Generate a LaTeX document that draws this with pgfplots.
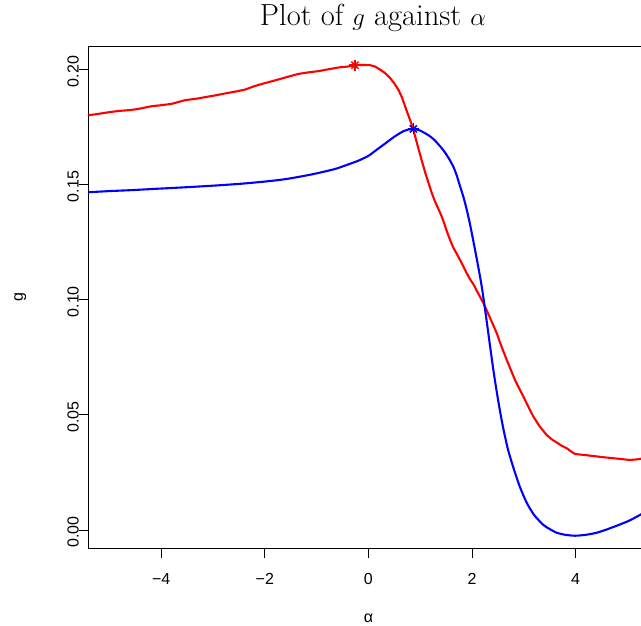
\documentclass[border=0pt]{standalone}
\usepackage{pgfplots}
\pgfplotsset{compat=1.18}
\usepackage{fontspec}
\newfontfamily\arial{Liberation Sans}
\pgfplotstableread{
x y
-5.50 0.1797
-5.41 0.1801
-5.20 0.1808
-5.00 0.1815
-4.83 0.1820
-4.60 0.1824
-4.44 0.1829
-4.18 0.1841
-4.00 0.1845
-3.80 0.1851
-3.54 0.1867
-3.30 0.1874
-3.155 0.1880
-2.95 0.1888
-2.77 0.1896
-2.55 0.1905
-2.38 0.1913
-2.20 0.1928
-2.00 0.1941
-1.85 0.1950
-1.674 0.1961
-1.50 0.1972
-1.353 0.1981
-1.15 0.1988
-0.967 0.1993
-0.80 0.2000
-0.58 0.2009
-0.40 0.2013
-0.26 0.2019
-0.10 0.2020
0.03 0.2019
0.13 0.2013
0.224 0.2000
0.32 0.1985
0.417 0.1964
0.50 0.1940
0.577 0.1913
0.65 0.1878
0.707 0.1841
0.77 0.1802
0.836 0.1761
0.90 0.1712
0.964 0.1658
1.03 0.1605
1.093 0.1555
1.157 0.1510
1.22 0.1466
1.28 0.1430
1.34 0.1400
1.40 0.1370
1.46 0.1334
1.52 0.1294
1.58 0.1258
1.64 0.1226
1.705 0.1200
1.80 0.1160
1.90 0.1115
1.962 0.1089
2.026 0.1068
2.10 0.1036
2.219 0.0986
2.30 0.0946
2.40 0.0895
2.477 0.0855
2.57 0.0797
2.670 0.0739
2.76 0.0690
2.83 0.0652
2.90 0.0620
3.00 0.0576
3.10 0.0530
3.184 0.0493
3.30 0.0452
3.443 0.0412
3.55 0.0392
3.636 0.0380
3.73 0.0366
3.829 0.0355
3.92 0.0340
3.99 0.0330
4.20 0.0325
4.536 0.0316
4.80 0.0310
5.05 0.0304
5.20 0.0307
5.30 0.0311
5.45 0.0316
}\redtab
\pgfplotstableread{
x y
-5.50 0.1465
-5.41 0.1467
-5.00 0.1472
-4.50 0.1477
-4.18 0.1481
-3.50 0.1489
-2.90 0.1497
-2.40 0.1505
-1.93 0.1515
-1.60 0.1524
-1.29 0.1536
-1.00 0.1549
-0.645 0.1568
-0.40 0.1587
-0.195 0.1604
0.00 0.1625
0.15 0.1650
0.32 0.1678
0.50 0.1708
0.674 0.1732
0.80 0.1741
0.867 0.1742
1.00 0.1735
1.19 0.1710
1.30 0.1688
1.446 0.1650
1.55 0.1615
1.64 0.1578
1.705 0.1540
1.77 0.1493
1.84 0.1442
1.90 0.1390
1.96 0.1330
2.026 0.1255
2.09 0.1180
2.155 0.1101
2.20 0.1040
2.251 0.0960
2.30 0.0880
2.348 0.0800
2.40 0.0715
2.444 0.0648
2.50 0.0570
2.55 0.0505
2.605 0.0440
2.65 0.0393
2.70 0.0345
2.80 0.0270
2.92 0.0190
3.057 0.0118
3.20 0.0065
3.377 0.0022
3.50 0.0004
3.636 -0.0012
3.80 -0.0021
3.99 -0.0025
4.20 -0.0021
4.408 -0.0012
4.60 0.0002
4.858 0.0024
5.05 0.0042
5.264 0.0068
5.45 0.0092
}\bluetab
\begin{document}
\begin{tikzpicture}[x=1pt,y=1pt]
\begin{axis}[
  at={(0,0)}, anchor=south west,
  scale only axis, width=560.2pt, height=502pt,
  xmin=-5.408, xmax=5.408, ymin=-0.00796, ymax=0.2101,
  xtick={-4,-2,0,2,4}, xticklabels={−4,−2,0,2,4},
  ytick={0,0.05,0.1,0.15,0.2}, yticklabels={0.00,0.05,0.10,0.15,0.20},
  xtick pos=bottom, ytick pos=left,
  tick align=outside, major tick length=9.6pt,
  tick style={black, line width=0.8pt},
  axis line style={line width=0.9pt},
  ticklabel style={font=\arial\fontsize{16}{19}\selectfont},
  xticklabel style={anchor=base, yshift=-27pt},
  yticklabel style={rotate=90, anchor=base, xshift=-2pt},
  xlabel={\arial\fontsize{16}{19}\selectfont α},
  xlabel style={at={([yshift=-74.7pt]axis description cs:0.5,0)}, anchor=base},
  ylabel={\arial\fontsize{16}{19}\selectfont g},
  ylabel style={at={([xshift=-68pt]axis description cs:0,0.5)}, anchor=center, rotate=0},
  clip=true,
]
\addplot[red, line width=2.1pt, line join=round] table {\redtab};
\addplot[blue, line width=2.1pt, line join=round, smooth, tension=0.4] table {\bluetab};
\addplot[red, only marks, mark=+, mark size=5.5pt, mark options={line width=1.5pt}] coordinates {(-0.26,0.2019)};
\addplot[red, only marks, mark=x, mark size=5pt, mark options={line width=1.5pt}] coordinates {(-0.26,0.2019)};
\addplot[blue, only marks, mark=+, mark size=5.5pt, mark options={line width=1.5pt}] coordinates {(0.867,0.1742)};
\addplot[blue, only marks, mark=x, mark size=5pt, mark options={line width=1.5pt}] coordinates {(0.867,0.1742)};
\end{axis}
\node[font=\fontsize{30.5}{36}\selectfont] at (284.7, 530) {Plot of $g$ against $\alpha$};
\pgfresetboundingbox
\useasboundingbox (-88.3,-77.7) rectangle (552.7,548.3);
\end{tikzpicture}
\end{document}
